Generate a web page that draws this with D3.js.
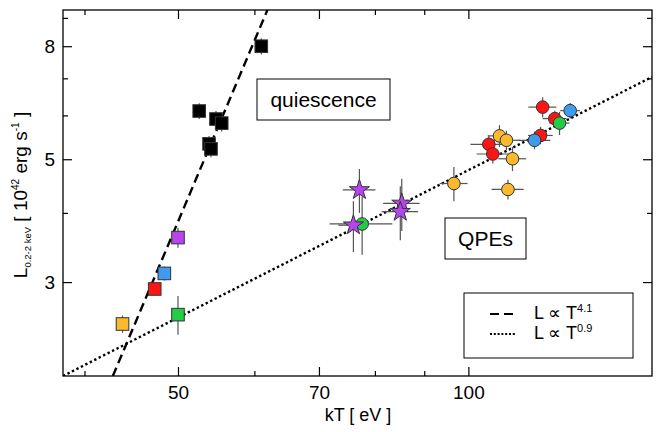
<!DOCTYPE html>
<html>
<head>
<meta charset="utf-8">
<script src="https://cdn.jsdelivr.net/npm/d3@7"></script>
<style>
  body { margin: 0; background: #fff; }
  text { font-family: "Liberation Sans", Arial, Helvetica, sans-serif; fill: #000; }
</style>
</head>
<body>
<div class="chart"></div>
<script>
// tick values
const xMajor = [50, 70, 100];
const xMinor = [40, 60, 80, 90];
const yMajor = [3, 5, 8];
const yMinor = [4, 6, 7, 9];

// quiescence points (squares): [kT, L, dkT, dL, group]
const quiescence = [
  [61.0, 8.00, 0.5, 0.27, "k"],
  [52.6, 6.11, 0.5, 0.20, "k"],
  [54.75, 5.91, 0.5, 0.20, "k"],
  [55.5, 5.81, 0.5, 0.20, "k"],
  [53.85, 5.33, 0.5, 0.18, "k"],
  [54.1, 5.22, 0.5, 0.18, "k"],
  [50.0, 3.61, 0.4, 0.15, "p"],
  [48.4, 3.11, 0.4, 0.09, "b"],
  [47.3, 2.915, 0.4, 0.07, "r"],
  [43.8, 2.52, 0.4, 0.09, "o"],
  [50.0, 2.62, 0.4, 0.21, "g"]
];

// QPE points (circles): [kT, L, dkT, dL, group]
const qpeCircles = [
  [96.6, 4.52, 3.2, 0.32, "o"],
  [109.9, 4.41, 4.2, 0.18, "o"],
  [111.1, 5.01, 3.7, 0.25, "o"],
  [107.7, 5.51, 3.0, 0.25, "o"],
  [109.5, 5.41, 3.5, 0.22, "o"],
  [105.0, 5.32, 4.5, 0.20, "r"],
  [106.0, 5.11, 4.0, 0.20, "r"],
  [118.8, 5.52, 3.5, 0.20, "r"],
  [119.4, 6.21, 4.0, 0.26, "r"],
  [122.9, 5.92, 3.5, 0.20, "r"],
  [117.1, 5.41, 4.5, 0.20, "b"],
  [127.5, 6.12, 3.0, 0.20, "b"],
  [77.6, 3.82, 5.8, 0.46, "g"],
  [124.3, 5.81, 3.0, 0.28, "g"]
];

// QPE points (stars): [kT, L, dkT, dL]
const qpeStars = [
  [77.1, 4.40, 3.0, 0.40],
  [76.0, 3.80, 2.7, 0.40],
  [85.3, 4.16, 3.7, 0.45],
  [85.0, 4.02, 3.7, 0.45]
];

// fitted power laws, end points: [kT, L]
const fitQuiescence = [[42.8, 2.03], [61.9, 9.3]];
const fitQPE = [[38, 2.03], [155, 7.04]];

const groups = ["k", "o", "r", "b", "g", "p"];
const groupColors = ["#000000", "#fdb92e", "#ff1414", "#3d9cf0", "#22cc44", "#b645f0"];

const width = 659, height = 432;
const margin = { top: 10, right: 7, bottom: 56, left: 63 };
const innerW = width - margin.left - margin.right;
const innerH = height - margin.top - margin.bottom;

const svg = d3.select(".chart")
  .append("svg")
  .attr("width", width)
  .attr("height", height);

const x = d3.scaleLog().domain([38, 155]).range([margin.left, margin.left + innerW]);
const y = d3.scaleLog().domain([2.03, 9.3]).range([margin.top + innerH, margin.top]);
const color = d3.scaleOrdinal().domain(groups).range(groupColors);

svg.append("clipPath").attr("id", "plot-clip")
  .append("rect")
  .attr("x", margin.left).attr("y", margin.top)
  .attr("width", innerW).attr("height", innerH);

// fit lines
const line = d3.line().x(d => x(d[0])).y(d => y(d[1]));
const fits = svg.append("g").attr("clip-path", "url(#plot-clip)");
fits.append("path").datum(fitQuiescence)
  .attr("d", line).attr("fill", "none").attr("stroke", "#000")
  .attr("stroke-width", 2.4).attr("stroke-dasharray", "9,5");
fits.append("path").datum(fitQPE)
  .attr("d", line).attr("fill", "none").attr("stroke", "#000")
  .attr("stroke-width", 2.4).attr("stroke-dasharray", "2.4,2.6");

// error bars
function errorBars(data) {
  const g = svg.append("g").attr("stroke", "#555").attr("stroke-width", 1.2);
  g.selectAll(".eh").data(data).join("line")
    .attr("x1", d => x(d[0] - d[2])).attr("x2", d => x(d[0] + d[2]))
    .attr("y1", d => y(d[1])).attr("y2", d => y(d[1]));
  g.selectAll(".ev").data(data).join("line")
    .attr("x1", d => x(d[0])).attr("x2", d => x(d[0]))
    .attr("y1", d => y(d[1] - d[3])).attr("y2", d => y(d[1] + d[3]));
}
errorBars(quiescence);
errorBars(qpeCircles);
errorBars(qpeStars);

// markers
const sq = 12.6;
svg.append("g").selectAll("rect").data(quiescence).join("rect")
  .attr("x", d => x(d[0]) - sq / 2).attr("y", d => y(d[1]) - sq / 2)
  .attr("width", sq).attr("height", sq)
  .attr("fill", d => color(d[4]))
  .attr("stroke", "#333").attr("stroke-width", 1);

svg.append("g").selectAll("circle").data(qpeCircles).join("circle")
  .attr("cx", d => x(d[0])).attr("cy", d => y(d[1])).attr("r", 6.3)
  .attr("fill", d => color(d[4]))
  .attr("stroke", "#333").attr("stroke-width", 1);

const star = d3.symbol().type(d3.symbolStar).size(125);
svg.append("g").selectAll("path").data(qpeStars).join("path")
  .attr("transform", d => `translate(${x(d[0])},${y(d[1])})`)
  .attr("d", star)
  .attr("fill", color("p"))
  .attr("stroke", "#333").attr("stroke-width", 1);

// axes
function styleAxis(g) {
  g.select(".domain").remove();
  g.selectAll(".tick line").attr("stroke", "#000").attr("stroke-width", 1.2);
  g.selectAll("text").attr("font-size", 19)
    .attr("font-family", "'Liberation Sans', Arial, sans-serif").attr("fill", "#000");
}
const bottom = margin.top + innerH, right = margin.left + innerW;

svg.append("g").attr("transform", `translate(0,${bottom})`)
  .call(d3.axisBottom(x).tickValues(xMajor).tickSizeInner(-9).tickSizeOuter(0)
    .tickPadding(10).tickFormat(d3.format("d"))).call(styleAxis);
svg.append("g").attr("transform", `translate(0,${bottom})`)
  .call(d3.axisBottom(x).tickValues(xMinor).tickSizeInner(-5).tickSizeOuter(0)
    .tickFormat("")).call(styleAxis);
svg.append("g").attr("transform", `translate(0,${margin.top})`)
  .call(d3.axisTop(x).tickValues(xMajor).tickSizeInner(-9).tickSizeOuter(0)
    .tickFormat("")).call(styleAxis);
svg.append("g").attr("transform", `translate(0,${margin.top})`)
  .call(d3.axisTop(x).tickValues(xMinor).tickSizeInner(-5).tickSizeOuter(0)
    .tickFormat("")).call(styleAxis);

svg.append("g").attr("transform", `translate(${margin.left},0)`)
  .call(d3.axisLeft(y).tickValues(yMajor).tickSizeInner(-9).tickSizeOuter(0)
    .tickPadding(8).tickFormat(d3.format("d"))).call(styleAxis);
svg.append("g").attr("transform", `translate(${margin.left},0)`)
  .call(d3.axisLeft(y).tickValues(yMinor).tickSizeInner(-5).tickSizeOuter(0)
    .tickFormat("")).call(styleAxis);
svg.append("g").attr("transform", `translate(${right},0)`)
  .call(d3.axisRight(y).tickValues(yMajor).tickSizeInner(-9).tickSizeOuter(0)
    .tickFormat("")).call(styleAxis);
svg.append("g").attr("transform", `translate(${right},0)`)
  .call(d3.axisRight(y).tickValues(yMinor).tickSizeInner(-5).tickSizeOuter(0)
    .tickFormat("")).call(styleAxis);

// frame
svg.append("rect")
  .attr("x", margin.left).attr("y", margin.top)
  .attr("width", innerW).attr("height", innerH)
  .attr("fill", "none").attr("stroke", "#000").attr("stroke-width", 1.3);

// axis titles
svg.append("text")
  .attr("x", 358).attr("y", 421)
  .attr("text-anchor", "middle").attr("font-size", 18)
  .text("kT [ eV ]");

const yTitle = svg.append("text")
  .attr("transform", "translate(27,195) rotate(-90)")
  .attr("text-anchor", "middle").attr("font-size", 19);
yTitle.append("tspan").text("L");
yTitle.append("tspan").attr("font-size", 9.5).attr("dy", 4).text("0.2-2 keV");
yTitle.append("tspan").attr("dy", -4).text(" [ 10");
yTitle.append("tspan").attr("font-size", 10).attr("dy", -8).text("42");
yTitle.append("tspan").attr("dy", 8).text(" erg s");
yTitle.append("tspan").attr("font-size", 10).attr("dy", -8).text("-1");
yTitle.append("tspan").attr("dy", 8).text(" ]");

// annotation boxes
function labelBox(x0, y0, w, h, label) {
  svg.append("rect").attr("x", x0).attr("y", y0).attr("width", w).attr("height", h)
    .attr("fill", "#fff").attr("stroke", "#000").attr("stroke-width", 1);
  svg.append("text").attr("x", x0 + w / 2).attr("y", y0 + h / 2 + 7.5)
    .attr("text-anchor", "middle").attr("font-size", 21).text(label);
}
labelBox(257, 79, 133, 41, "quiescence");
labelBox(445, 218, 81, 41, "QPEs");

// legend
const legend = svg.append("g");
legend.append("rect").attr("x", 464).attr("y", 293).attr("width", 169).attr("height", 65)
  .attr("fill", "#fff").attr("stroke", "#000").attr("stroke-width", 1);
const legendItems = [
  { dash: "9,5", index: "4.1", yy: 314 },
  { dash: "2,1.8", index: "0.9", yy: 334 }
];
legendItems.forEach(it => {
  legend.append("line").attr("x1", 490).attr("x2", 516).attr("y1", it.yy).attr("y2", it.yy)
    .attr("stroke", "#000").attr("stroke-width", 2.2).attr("stroke-dasharray", it.dash);
  const t = legend.append("text").attr("x", 534).attr("y", it.yy + 5).attr("font-size", 18);
  t.append("tspan").text("L \u221D T");
  t.append("tspan").attr("font-size", 11).attr("dy", -7).text(it.index);
});
</script>
</body>
</html>
